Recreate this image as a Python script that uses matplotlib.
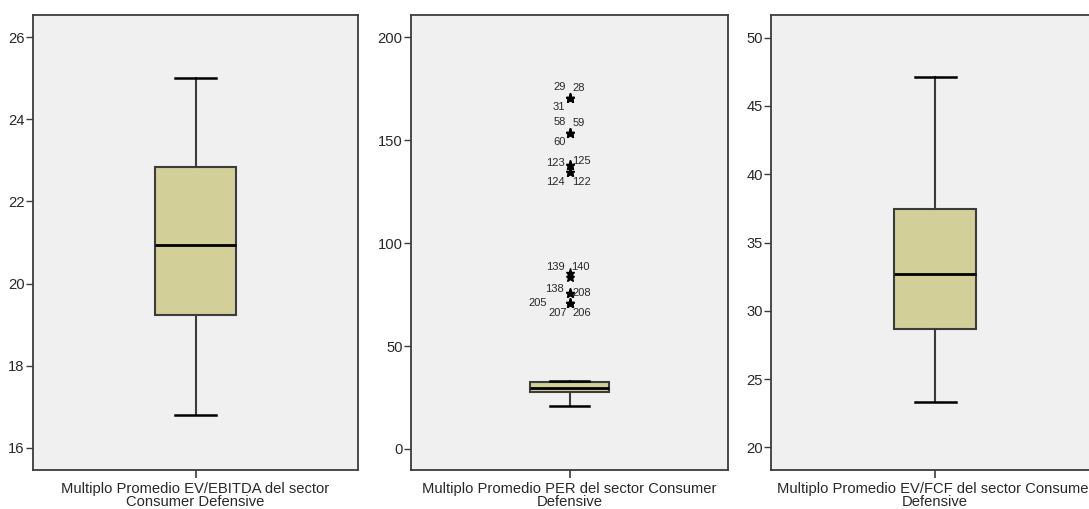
import matplotlib.pyplot as plt

plt.rcParams['font.family'] = ['Liberation Sans', 'DejaVu Sans']

# estadisticos de cada multiplo (sector Consumer Defensive)
etiquetas = ["Multiplo Promedio EV/EBITDA del sector\nConsumer Defensive",
             "Multiplo Promedio PER del sector Consumer\nDefensive",
             "Multiplo Promedio EV/FCF del sector Consumer\nDefensive"]
minimos = [16.8, 21.0, 23.3]
q1s = [19.24, 27.7, 28.66]
medianas = [20.93, 29.6, 32.67]
q3s = [22.85, 32.4, 37.47]
maximos = [25.0, 32.9, 47.1]

# valores extremos del PER y numero de caso
casos_per = [29, 28, 31, 58, 59, 60, 123, 125, 124, 122, 139, 140, 138, 208, 205, 207, 206]
valores_per = [170.2, 170.2, 170.2, 153.2, 153.2, 153.2, 137.9, 137.9, 134.3, 134.3,
               85.3, 83.6, 75.9, 75.9, 71.0, 71.0, 71.0]

# ejes y
limites_y = [(15.46, 26.54), (-10.2, 210.7), (18.34, 51.66)]
ticks_y = [[16, 18, 20, 22, 24, 26], [0, 50, 100, 150, 200], [20, 25, 30, 35, 40, 45, 50]]

# posicion de las etiquetas de caso (pixeles respecto a la estrella)
desplaz = {29: (-10, 11), 28: (9, 10), 31: (-11, -9),
           58: (-10, 11), 59: (9, 10), 60: (-10, -9),
           123: (-14, 2), 125: (12, 4), 124: (-14, -10), 122: (12, -10),
           139: (-14, 6), 140: (11, 10), 138: (-15, 4), 208: (12, 0),
           205: (-32, 0), 207: (-12, -10), 206: (12, -10)}

W, H = 1089, 509
fig = plt.figure(figsize=(W / 100, H / 100), dpi=100)
fig.patch.set_facecolor("white")

posiciones = [(33, 325), (411, 317), (771, 328)]
fondo = "#f0f0f0"
relleno = "#d3cf99"
borde = "#3c3c3c"
texto = "#282828"

for i in range(3):
    x0, ancho = posiciones[i]
    ax = fig.add_axes([x0 / W, 39 / H, ancho / W, 455 / H])
    ax.set_facecolor(fondo)
    stats = [{"med": medianas[i], "q1": q1s[i], "q3": q3s[i],
              "whislo": minimos[i], "whishi": maximos[i],
              "fliers": valores_per if i == 1 else []}]
    ax.bxp(stats, positions=[1], widths=0.5, capwidths=0.25, patch_artist=True,
           boxprops=dict(facecolor=relleno, edgecolor=borde, linewidth=1.5),
           medianprops=dict(color="black", linewidth=2),
           whiskerprops=dict(color=borde, linewidth=1.5),
           capprops=dict(color="black", linewidth=1.8),
           flierprops=dict(marker="*", markersize=6.5, markerfacecolor="black",
                           markeredgecolor="black", linestyle="none"))
    if i == 1:
        for caso, v in zip(casos_per, valores_per):
            ax.annotate(str(caso), (1, v), xytext=desplaz[caso], textcoords="offset pixels",
                        ha="center", va="center", fontsize=8, color=texto)
    ax.set_xlim(0, 2)
    ax.set_ylim(*limites_y[i])
    ax.set_yticks(ticks_y[i])
    ax.set_xticks([1])
    ax.set_xticklabels([etiquetas[i]], fontsize=10.6, color=texto, linespacing=0.88)
    ax.tick_params(axis="y", labelsize=10.6, labelcolor=texto, length=5, width=1,
                   color=borde, pad=1)
    ax.tick_params(axis="x", length=6, width=1.2, color=borde, pad=3)
    for s in ax.spines.values():
        s.set_color(borde)
        s.set_linewidth(1.3)

fig.savefig("out.png", dpi=100)
